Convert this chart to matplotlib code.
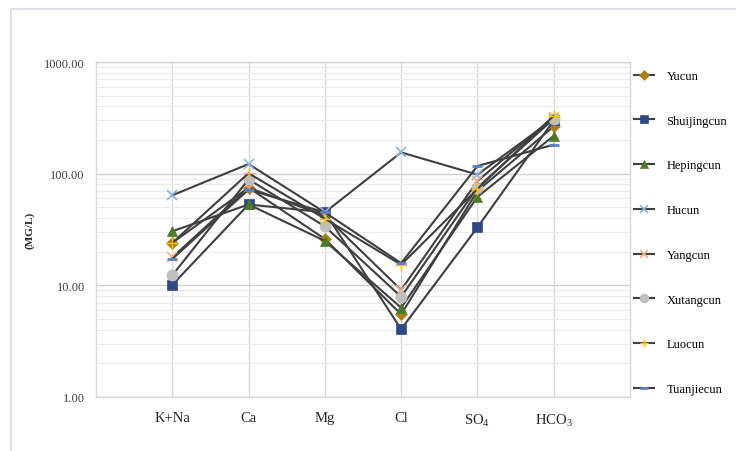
import numpy as np
import matplotlib
matplotlib.use("Agg")
import matplotlib.pyplot as plt
from matplotlib.patches import Rectangle

plt.rcParams["font.family"] = ["Liberation Serif", "DejaVu Serif"]
plt.rcParams["mathtext.fontset"] = "custom"
plt.rcParams["mathtext.rm"] = "Liberation Serif"

# ---------------- data ----------------
ions = ["K+Na", "Ca", "Mg", "Cl", r"SO$_4$", r"HCO$_3$"]

yucun = [24.0, 75.0, 26.0, 5.5, 70.0, 265.0]
shuijingcun = [10.1, 53.0, 45.0, 4.05, 33.0, 300.0]
hepingcun = [30.5, 53.0, 25.0, 6.3, 62.0, 218.0]
hucun = [64.0, 122.0, 45.0, 155.0, 98.0, 310.0]
yangcun = [17.8, 75.0, 42.0, 9.1, 86.0, 322.0]
xutangcun = [12.3, 89.0, 33.7, 7.9, 75.0, 310.0]
luocun = [24.0, 101.0, 39.5, 15.3, 73.0, 330.0]
tuanjiecun = [17.2, 72.0, 45.0, 15.8, 117.0, 182.0]

names = ["Yucun", "Shuijingcun", "Hepingcun", "Hucun",
         "Yangcun", "Xutangcun", "Luocun", "Tuanjiecun"]
series = [yucun, shuijingcun, hepingcun, hucun,
          yangcun, xutangcun, luocun, tuanjiecun]

# marker styles (marker, colour, size, edge width)
styles = [
    ("D", "#a8801c", 6, 0.5),
    ("s", "#2e4a86", 7, 0.5),
    ("^", "#4b7a2c", 7, 0.5),
    ("x", "#8db3e2", 7, 1.2),
    ("x", "#f4b183", 7, 1.2),
    ("o", "#bfbfbf", 8, 0.5),
    ("+", "#ffc000", 8, 1.0),
    ("_", "#5b82c8", 7, 2.0),
]

fig = plt.figure(figsize=(7.36, 4.52), dpi=100)

# light outer frame
fig.patches.append(Rectangle((11 / 736, -0.05), 1.2, 1 - 10 / 452 + 0.05,
                             transform=fig.transFigure, fill=False,
                             edgecolor="#d9d9ee", linewidth=1.2))

ax = fig.add_axes([96 / 736, 1 - 398 / 452, 534 / 736, 335 / 452])
x = np.arange(len(ions))

for name, vals, (m, c, s, ew) in zip(names, series, styles):
    if m in ("x", "+", "_"):
        ax.plot(x, vals, color="#3f3f3f", linewidth=1.5, marker=m,
                markersize=s, markeredgecolor=c, markeredgewidth=ew,
                label=name, zorder=3)
    else:
        ax.plot(x, vals, color="#3f3f3f", linewidth=1.5, marker=m,
                markersize=s, markerfacecolor=c, markeredgecolor=c,
                markeredgewidth=ew, label=name, zorder=3)

ax.set_yscale("log")
ax.set_ylim(1, 1000)
ax.set_xlim(-1, 6)
ax.set_xticks(x)
ax.set_xticklabels(ions, fontsize=10.5, color="#262626")
ax.set_yticks([1, 10, 100, 1000])
ax.set_yticklabels(["1.00", "10.00", "100.00", "1000.00"], fontsize=9,
                   color="#404040")
ax.tick_params(axis="both", length=0, pad=8)
ax.tick_params(axis="x", pad=10)
ax.tick_params(axis="y", which="minor", length=0)
ax.yaxis.set_minor_formatter(matplotlib.ticker.NullFormatter())

ax.grid(True, which="major", axis="y", color="#d0d0d0", linewidth=1.0)
ax.grid(True, which="minor", axis="y", color="#ebebeb", linewidth=0.8)
ax.grid(True, which="major", axis="x", color="#d9d9d9", linewidth=1.0)
ax.set_axisbelow(True)
for sp in ax.spines.values():
    sp.set_color("#d9d9d9")
    sp.set_linewidth(1.0)

ax.set_ylabel("(MG/L)", fontsize=8, fontweight="bold", color="#262626",
              labelpad=7)

fig.legend(loc="upper left", bbox_to_anchor=(634 / 736, 1 - 71 / 452),
           frameon=False, fontsize=9, labelspacing=2.62, handlelength=1.6,
           handletextpad=1.0, borderpad=0, borderaxespad=0, markerscale=0.8)

fig.savefig("out.png", dpi=100)
